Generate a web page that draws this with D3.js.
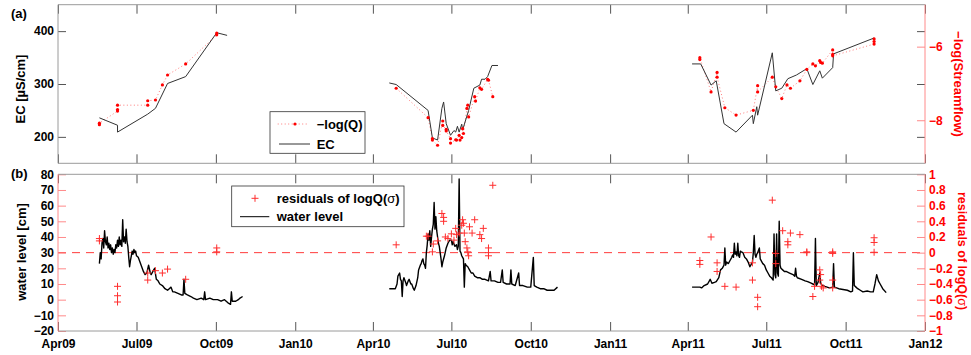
<!DOCTYPE html>
<html lang="en">
<head>
<meta charset="UTF-8">
<title>EC, streamflow and water level</title>
<script src="https://cdnjs.cloudflare.com/ajax/libs/d3/7.8.5/d3.min.js"></script>
<style>
    body { margin: 0; background: #fff; }
    svg { display: block; font-family: "Liberation Sans", Arial, sans-serif; font-weight: bold; }
</style>
</head>
<body>
<script>

    // ---------------- data ---------------- //
    var xTicks = ["2009-04-01", "2009-07-01", "2009-10-01", "2010-01-01", "2010-04-01", "2010-07-01",
                  "2010-10-01", "2011-01-01", "2011-04-01", "2011-07-01", "2011-10-01", "2012-01-01"];
    var ecTicks = [200, 300, 400];
    var qTicks = [-6, -8];
    var levelTicks = [-20, -10, 0, 10, 20, 30, 40, 50, 60, 70, 80];
    var resTicks = [-1, -0.8, -0.6, -0.4, -0.2, 0, 0.2, 0.4, 0.6, 0.8, 1];

    // EC [uS/cm]
    var ec2009 = [["2009-05-19",236],["2009-06-09",222],["2009-06-09",209],["2009-07-14",243],["2009-07-23",254],
                  ["2009-08-06",301],["2009-08-27",314],["2009-10-02",397],["2009-10-14",392]];
    var ec2010 = [["2010-04-20",302],["2010-04-28",299],["2010-06-04",250],["2010-06-09",198],["2010-06-15",194],
                  ["2010-06-20",254],["2010-06-22",266],["2010-06-25",225],["2010-06-30",203],["2010-07-04",212],
                  ["2010-07-06",209],["2010-07-08",220],["2010-07-10",209],["2010-07-13",224],["2010-07-14",213],
                  ["2010-07-21",250],["2010-07-27",292],["2010-08-03",298],["2010-08-05",309],["2010-08-09",309],
                  ["2010-08-12",314],["2010-08-17",335],["2010-08-24",335]];
    var ec2011 = [["2011-04-06",338],["2011-04-16",338],["2011-04-28",298],["2011-05-04",306],["2011-05-13",225],
                  ["2011-05-27",209],["2011-06-15",241],["2011-06-16",225],["2011-06-20",257],["2011-06-21",241],
                  ["2011-07-08",359],["2011-07-12",287],["2011-07-19",292],["2011-07-26",310],["2011-08-05",317],
                  ["2011-08-17",329],["2011-08-24",299],["2011-09-01",325],["2011-09-04",311],["2011-09-16",331],
                  ["2011-09-17",357],["2011-11-03",387]];

    // -log(Q)
    var q2009 = [["2009-05-19",-8.12],["2009-05-19",-8.08],["2009-06-09",-7.75],["2009-06-09",-7.71],["2009-06-09",-7.59],
                 ["2009-07-14",-7.59],["2009-07-14",-7.47],["2009-07-23",-7.45],["2009-07-31",-7.04],["2009-08-06",-6.77],
                 ["2009-08-27",-6.47],["2009-10-02",-5.68],["2009-10-02",-5.63]];
    var q2010 = [["2010-04-28",-7.13],["2010-06-04",-7.93],["2010-06-09",-8.50],["2010-06-09",-8.54],["2010-06-15",-8.68],
                 ["2010-06-21",-8.02],["2010-06-21",-8.14],["2010-06-25",-8.25],["2010-06-25",-8.29],["2010-06-30",-8.50],
                 ["2010-06-30",-8.62],["2010-07-06",-8.53],["2010-07-07",-8.54],["2010-07-10",-8.41],["2010-07-11",-8.54],
                 ["2010-07-13",-8.47],["2010-07-14",-8.23],["2010-07-15",-8.36],["2010-07-19",-7.68],["2010-07-20",-7.59],
                 ["2010-07-21",-7.91],["2010-07-28",-7.36],["2010-07-29",-7.48],["2010-08-03",-7.12],["2010-08-05",-7.16],
                 ["2010-08-12",-6.89],["2010-08-13",-6.91],["2010-08-18",-7.36]];
    var q2011 = [["2011-04-15",-6.35],["2011-04-15",-6.30],["2011-04-28",-7.23],["2011-05-05",-6.70],["2011-05-05",-6.83],
                 ["2011-05-14",-7.66],["2011-05-27",-7.86],["2011-06-16",-7.73],["2011-06-21",-7.06],["2011-06-21",-7.23],
                 ["2011-07-08",-6.83],["2011-07-12",-7.09],["2011-07-19",-7.41],["2011-07-25",-7.04],["2011-07-29",-7.13],
                 ["2011-08-09",-6.93],["2011-08-17",-6.62],["2011-08-24",-6.47],["2011-08-27",-6.52],["2011-09-01",-6.38],
                 ["2011-09-02",-6.43],["2011-09-04",-6.45],["2011-09-16",-6.09],["2011-09-16",-6.21],["2011-09-16",-6.25],
                 ["2011-11-03",-5.93],["2011-11-03",-5.86],["2011-11-03",-5.79]];

    // water level [cm]
    var level2009 = [["2009-05-19",23],["2009-05-20",30],["2009-05-21",26],["2009-05-22",36],["2009-05-23",39],["2009-05-24",33],
                     ["2009-05-25",44],["2009-05-26",37],["2009-05-27",35],["2009-05-28",40],["2009-05-29",33],["2009-05-30",36],
                     ["2009-05-31",32],["2009-06-01",35],["2009-06-02",30],["2009-06-03",33],["2009-06-04",29],["2009-06-05",32],
                     ["2009-06-06",30],["2009-06-07",35],["2009-06-08",33],["2009-06-09",38],["2009-06-10",34],["2009-06-11",40],
                     ["2009-06-12",35],["2009-06-13",38],["2009-06-14",34],["2009-06-15",51],["2009-06-16",37],["2009-06-17",40],
                     ["2009-06-18",36],["2009-06-19",45],["2009-06-20",37],["2009-06-21",34],["2009-06-22",27],["2009-06-23",21],
                     ["2009-06-24",25],["2009-06-25",28],["2009-06-26",31],["2009-06-27",29],["2009-06-28",32],["2009-06-29",30],
                     ["2009-06-30",31],["2009-07-01",28],["2009-07-03",27],["2009-07-05",24],["2009-07-07",21],["2009-07-09",18],
                     ["2009-07-11",16],["2009-07-13",17],["2009-07-15",22],["2009-07-17",17],["2009-07-18",16],["2009-07-20",18],
                     ["2009-07-22",20],["2009-07-24",13],["2009-07-26",12],["2009-07-28",10],["2009-07-31",9],["2009-08-03",7],
                     ["2009-08-06",6],["2009-08-08",7],["2009-08-10",8],["2009-08-12",5],["2009-08-14",5],["2009-08-18",4],
                     ["2009-08-22",3],["2009-08-24",3],["2009-08-25",13],["2009-08-26",4],["2009-08-29",3],["2009-09-02",2],
                     ["2009-09-05",1],["2009-09-09",0],["2009-09-14",1],["2009-09-17",0],["2009-09-18",5],["2009-09-19",0],
                     ["2009-09-24",1],["2009-09-28",0],["2009-10-03",0],["2009-10-07",-1],["2009-10-11",0],["2009-10-15",-2],
                     ["2009-10-18",-3],["2009-10-19",5],["2009-10-20",-1],["2009-10-24",-1],["2009-10-27",0],["2009-10-29",1],
                     ["2009-11-01",2]];
    var level2010 = [["2010-04-20",7],["2010-04-27",7],["2010-04-29",10],["2010-04-30",15],["2010-05-02",17],["2010-05-03",13],
                     ["2010-05-04",12],["2010-05-05",2],["2010-05-06",12],["2010-05-07",14],["2010-05-09",11],["2010-05-10",9],
                     ["2010-05-12",12],["2010-05-13",13],["2010-05-15",10],["2010-05-16",10],["2010-05-18",7],["2010-05-19",6],
                     ["2010-05-21",9],["2010-05-23",14],["2010-05-24",19],["2010-05-26",22],["2010-05-27",23],["2010-05-28",25],
                     ["2010-05-29",26],["2010-05-30",23],["2010-05-31",22],["2010-06-01",20],["2010-06-02",30],["2010-06-03",35],
                     ["2010-06-04",42],["2010-06-05",38],["2010-06-06",44],["2010-06-07",34],["2010-06-08",40],["2010-06-09",45],
                     ["2010-06-10",48],["2010-06-11",62],["2010-06-12",45],["2010-06-13",53],["2010-06-14",44],["2010-06-15",40],
                     ["2010-06-16",36],["2010-06-17",34],["2010-06-18",30],["2010-06-19",26],["2010-06-20",21],["2010-06-21",24],
                     ["2010-06-23",28],["2010-06-25",33],["2010-06-27",36],["2010-06-29",38],["2010-07-01",38],["2010-07-02",35],
                     ["2010-07-03",37],["2010-07-05",34],["2010-07-07",35],["2010-07-08",32],["2010-07-09",34],["2010-07-10",77],
                     ["2010-07-11",31],["2010-07-12",30],["2010-07-13",28],["2010-07-14",27],["2010-07-15",26],["2010-07-16",8],
                     ["2010-07-17",23],["2010-07-18",22],["2010-07-20",21],["2010-07-22",19],["2010-07-24",17],["2010-07-26",17],
                     ["2010-07-28",15],["2010-07-31",14],["2010-08-03",14],["2010-08-06",13],["2010-08-09",13],["2010-08-13",12],
                     ["2010-08-15",18],["2010-08-16",12],["2010-08-20",12],["2010-08-24",11],["2010-08-27",11],["2010-08-29",19],
                     ["2010-08-30",11],["2010-09-03",10],["2010-09-07",10],["2010-09-08",19],["2010-09-09",10],["2010-09-13",9],
                     ["2010-09-17",17],["2010-09-18",9],["2010-09-22",9],["2010-09-27",8],["2010-10-01",8],["2010-10-04",27],
                     ["2010-10-05",9],["2010-10-08",8],["2010-10-12",7],["2010-10-16",7],["2010-10-20",6],["2010-10-24",6],
                     ["2010-10-28",6],["2010-11-01",8]];
    var level2011 = [["2011-04-06",8],["2011-04-15",8],["2011-04-17",7.5],["2011-04-20",9],["2011-04-24",10],["2011-04-27",13],
                     ["2011-04-29",10.5],["2011-05-02",11],["2011-05-04",11.5],["2011-05-07",14],["2011-05-09",19],["2011-05-11",20],
                     ["2011-05-13",22],["2011-05-14",33],["2011-05-15",22],["2011-05-16",24],["2011-05-18",23],["2011-05-20",25],
                     ["2011-05-22",27],["2011-05-23",28.5],["2011-05-24",27],["2011-05-25",36],["2011-05-26",29],["2011-05-27",30.5],
                     ["2011-05-28",28],["2011-05-29",36],["2011-05-30",28],["2011-05-31",27],["2011-06-01",31],["2011-06-02",30.5],
                     ["2011-06-04",30],["2011-06-06",27],["2011-06-08",26],["2011-06-10",24],["2011-06-12",21],["2011-06-14",23],
                     ["2011-06-15",24],["2011-06-16",30],["2011-06-17",41],["2011-06-18",29],["2011-06-19",27],["2011-06-20",29],
                     ["2011-06-21",30],["2011-06-23",33],["2011-06-24",26],["2011-06-26",24],["2011-06-27",23],["2011-06-29",22],
                     ["2011-07-01",19],["2011-07-03",17],["2011-07-05",15],["2011-07-07",14],["2011-07-09",12.5],["2011-07-10",42],
                     ["2011-07-11",16],["2011-07-12",14],["2011-07-13",42],["2011-07-14",17],["2011-07-15",15],["2011-07-16",50],
                     ["2011-07-17",22],["2011-07-18",20],["2011-07-20",19],["2011-07-22",18],["2011-07-24",18],["2011-07-28",17],
                     ["2011-08-01",16],["2011-08-03",15],["2011-08-04",20],["2011-08-05",15],["2011-08-06",14],["2011-08-11",13],
                     ["2011-08-15",12],["2011-08-18",11.5],["2011-08-22",10.5],["2011-08-24",10],["2011-08-26",9.5],["2011-08-27",39],
                     ["2011-08-28",9],["2011-08-30",11],["2011-09-01",17],["2011-09-02",11],["2011-09-03",9.5],["2011-09-07",8.5],
                     ["2011-09-12",7.5],["2011-09-16",8],["2011-09-17",23],["2011-09-18",8],["2011-09-23",7],["2011-09-28",6.5],
                     ["2011-10-03",6],["2011-10-07",5],["2011-10-09",5.5],["2011-10-10",30],["2011-10-11",9],["2011-10-13",8],
                     ["2011-10-15",7],["2011-10-18",6],["2011-10-21",5],["2011-10-26",5.5],["2011-10-30",5],["2011-11-02",5],
                     ["2011-11-04",10],["2011-11-06",16],["2011-11-08",12],["2011-11-10",10],["2011-11-13",7],["2011-11-17",4.5]];

    // residuals of logQ(sigma)
    var residuals = [["2009-05-19",0.18],["2009-05-19",0.15],["2009-06-09",-0.43],["2009-06-09",-0.55],["2009-06-09",-0.63],
                     ["2009-07-14",-0.35],["2009-07-14",-0.26],["2009-07-23",-0.23],["2009-07-31",-0.26],["2009-08-06",-0.21],
                     ["2009-08-27",-0.34],["2009-10-02",0.06],["2009-10-02",0.01],
                     ["2010-04-28",0.10],["2010-06-02",0.21],["2010-06-04",0.21],["2010-06-09",0.01],["2010-06-10",0.11],
                     ["2010-06-15",0.15],["2010-06-20",0.50],["2010-06-22",0.45],["2010-06-22",0.40],["2010-06-24",0.20],
                     ["2010-06-27",0.18],["2010-07-01",0.24],["2010-07-04",0.16],["2010-07-06",0.31],["2010-07-07",0.23],
                     ["2010-07-10",0.25],["2010-07-13",0.35],["2010-07-14",0.42],["2010-07-15",0.375],["2010-07-16",0.25],
                     ["2010-07-17",0.14],["2010-07-19",0.06],["2010-07-20",0.01],["2010-07-21",-0.04],["2010-07-22",0.33],
                     ["2010-07-25",0.25],["2010-07-28",0.42],["2010-08-03",0.23],["2010-08-05",0.18],["2010-08-07",0.31],
                     ["2010-08-13",0.06],["2010-08-13",0.0],["2010-08-13",-0.04],["2010-08-18",0.86],
                     ["2011-04-15",-0.10],["2011-04-15",-0.15],["2011-04-28",0.20],["2011-05-05",-0.13],["2011-05-05",-0.24],
                     ["2011-05-14",-0.43],["2011-05-27",-0.44],["2011-06-15",-0.35],["2011-06-15",-0.13],["2011-06-21",-0.57],
                     ["2011-06-21",-0.69],["2011-07-08",0.67],["2011-07-12",-0.01],["2011-07-12",-0.14],["2011-07-20",0.28],
                     ["2011-07-26",0.14],["2011-07-26",0.10],["2011-07-29",0.25],["2011-08-09",0.23],["2011-08-17",0.01],
                     ["2011-08-17",0.0],["2011-08-24",-0.56],["2011-08-26",-0.43],["2011-09-01",-0.22],["2011-09-01",-0.35],
                     ["2011-09-02",-0.28],["2011-09-03",-0.43],["2011-09-05",-0.45],["2011-09-16",0.01],["2011-09-16",-0.01],
                     ["2011-09-16",-0.35],["2011-09-16",-0.45],["2011-11-03",0.19],["2011-11-03",0.13],["2011-11-03",0.005]];

    // ---------------- layout ---------------- //
    var width = 971, height = 355;
    var left = 58, right = 925;
    var panelA = {top: 4.7, bottom: 163.3};
    var panelB = {top: 174.3, bottom: 331};

    var boxColor = "#9a9a9a";
    var tickColor = "#555";
    var pink = "#ff8a8a";
    var red = "#ff0000";

    var parse = d3.utcParse("%Y-%m-%d");

    var svg = d3.select("body").append("svg")
        .attr("width", width)
        .attr("height", height);

    var xScale = d3.scaleUtc()
        .domain([parse("2009-04-01"), parse("2012-01-01")])
        .range([left, right]);
    var ecScale = d3.scaleLinear().domain([150, 450]).range([panelA.bottom, panelA.top]);
    var qScale = d3.scaleLinear().domain([-9.17, -4.86]).range([panelA.bottom, panelA.top]);
    var levelScale = d3.scaleLinear().domain([-20, 80]).range([panelB.bottom, panelB.top]);
    var resScale = d3.scaleLinear().domain([-1, 1]).range([panelB.bottom, panelB.top]);

    var tickDates = xTicks.map(parse);

    function styleAxis(g, color, size) {
        g.select(".domain").remove();
        g.selectAll(".tick line").attr("stroke", color);
        g.selectAll(".tick text").attr("fill", "#000").attr("font-size", size || 12);
    }

    // ------------- panel (a) ------------- //
    var lineEC = d3.line()
        .x(function (d) { return xScale(parse(d[0])); })
        .y(function (d) { return ecScale(d[1]); });
    var lineQ = d3.line()
        .x(function (d) { return xScale(parse(d[0])); })
        .y(function (d) { return qScale(d[1]); });

    var a = svg.append("g");

    [q2009, q2010, q2011].forEach(function (s) {
        a.append("path")
            .datum(s)
            .attr("fill", "none")
            .attr("stroke", "#ff7a7a")
            .attr("stroke-width", 1)
            .attr("stroke-dasharray", "1,2.5")
            .attr("d", lineQ);
    });
    [ec2009, ec2010, ec2011].forEach(function (s) {
        a.append("path")
            .datum(s)
            .attr("fill", "none")
            .attr("stroke", "#333")
            .attr("stroke-width", 1)
            .attr("d", lineEC);
    });
    a.selectAll("circle.q")
        .data(q2009.concat(q2010, q2011))
        .enter().append("circle")
        .attr("cx", function (d) { return xScale(parse(d[0])); })
        .attr("cy", function (d) { return qScale(d[1]); })
        .attr("r", 1.6)
        .attr("fill", red);

    // axes
    a.append("g").attr("transform", "translate(0," + panelA.bottom + ")")
        .call(d3.axisBottom(xScale).tickValues(tickDates).tickSize(-9).tickFormat(""))
        .call(styleAxis, tickColor);
    a.append("g").attr("transform", "translate(0," + panelA.top + ")")
        .call(d3.axisTop(xScale).tickValues(tickDates).tickSize(-9).tickFormat(""))
        .call(styleAxis, tickColor);
    a.append("g").attr("transform", "translate(" + left + ",0)")
        .call(d3.axisLeft(ecScale).tickValues(ecTicks).tickSize(-8).tickPadding(4))
        .call(styleAxis, tickColor, 12);
    a.append("g").attr("transform", "translate(" + right + ",0)")
        .call(d3.axisRight(ecScale).tickValues(ecTicks).tickSize(-8).tickFormat(""))
        .call(styleAxis, tickColor);
    var qAxis = a.append("g").attr("transform", "translate(" + right + ",0)")
        .call(d3.axisRight(qScale).tickValues(qTicks).tickSize(-8).tickPadding(4)
            .tickFormat(d3.format("~g")))
        .call(styleAxis, pink, 12);
    qAxis.selectAll(".tick text").attr("fill", red);

    // frame
    a.append("line").attr("x1", left).attr("x2", right).attr("y1", panelA.top).attr("y2", panelA.top).attr("stroke", boxColor);
    a.append("line").attr("x1", left).attr("x2", right).attr("y1", panelA.bottom).attr("y2", panelA.bottom).attr("stroke", boxColor);
    a.append("line").attr("x1", left).attr("x2", left).attr("y1", panelA.top).attr("y2", panelA.bottom).attr("stroke", boxColor);
    a.append("line").attr("x1", right).attr("x2", right).attr("y1", panelA.top).attr("y2", panelA.bottom).attr("stroke", pink);

    a.append("text").attr("x", 11).attr("y", 17.5).attr("font-size", 13).text("(a)");
    a.append("text")
        .attr("transform", "translate(25,89) rotate(-90)")
        .attr("text-anchor", "middle").attr("font-size", 13)
        .text("EC [\u00b5S/cm]");
    a.append("text")
        .attr("transform", "translate(954,84) rotate(90)")
        .attr("text-anchor", "middle").attr("font-size", 13).attr("fill", red)
        .text("\u2212log(Streamflow)");

    // legend (a)
    var legA = a.append("g").attr("transform", "translate(270,111.7)");
    legA.append("rect").attr("width", 95).attr("height", 41.6)
        .attr("fill", "#fff").attr("stroke", "#333").attr("stroke-width", 0.8);
    legA.append("line").attr("x1", 7.7).attr("x2", 38).attr("y1", 12.3).attr("y2", 12.3)
        .attr("stroke", "#ff7a7a").attr("stroke-dasharray", "1,2.5");
    legA.append("circle").attr("cx", 25).attr("cy", 12.3).attr("r", 1.6).attr("fill", red);
    legA.append("text").attr("x", 46.7).attr("y", 17).attr("font-size", 13).text("\u2212log(Q)");
    legA.append("line").attr("x1", 9).attr("x2", 40).attr("y1", 32.3).attr("y2", 32.3).attr("stroke", "#333");
    legA.append("text").attr("x", 46.7).attr("y", 37).attr("font-size", 13).text("EC");

    // ------------- panel (b) ------------- //
    var lineLevel = d3.line()
        .x(function (d) { return xScale(parse(d[0])); })
        .y(function (d) { return levelScale(d[1]); });

    var b = svg.append("g");

    b.append("line")
        .attr("x1", left).attr("x2", right)
        .attr("y1", resScale(0)).attr("y2", resScale(0))
        .attr("stroke", "#ff3b3b").attr("stroke-width", 1)
        .attr("stroke-dasharray", "8,6");

    [level2009, level2010, level2011].forEach(function (s) {
        b.append("path")
            .datum(s)
            .attr("fill", "none")
            .attr("stroke", "#000")
            .attr("stroke-width", 1.4)
            .attr("stroke-linejoin", "round")
            .attr("d", lineLevel);
    });

    b.selectAll("path.res")
        .data(residuals)
        .enter().append("path")
        .attr("class", "res")
        .attr("transform", function (d) {
            return "translate(" + xScale(parse(d[0])) + "," + resScale(d[1]) + ")";
        })
        .attr("d", "M-3.5,0H3.5M0,-3.5V3.5")
        .attr("stroke", "#ff2e2e")
        .attr("stroke-width", 1)
        .attr("fill", "none");

    b.append("g").attr("transform", "translate(0," + panelB.bottom + ")")
        .call(d3.axisBottom(xScale).tickValues(tickDates).tickSize(-9).tickPadding(8)
            .tickFormat(d3.utcFormat("%b%y")))
        .call(styleAxis, tickColor, 12);
    b.append("g").attr("transform", "translate(0," + panelB.top + ")")
        .call(d3.axisTop(xScale).tickValues(tickDates).tickSize(-9).tickFormat(""))
        .call(styleAxis, tickColor);
    b.append("g").attr("transform", "translate(" + left + ",0)")
        .call(d3.axisLeft(levelScale).tickValues(levelTicks).tickSize(-8).tickPadding(4))
        .call(styleAxis, pink, 12);
    var resAxis = b.append("g").attr("transform", "translate(" + right + ",0)")
        .call(d3.axisRight(resScale).tickValues(resTicks).tickSize(-8).tickPadding(4)
            .tickFormat(d3.format("~g")))
        .call(styleAxis, pink, 12);
    resAxis.selectAll(".tick text").attr("fill", red);

    b.append("line").attr("x1", left).attr("x2", right).attr("y1", panelB.top).attr("y2", panelB.top).attr("stroke", boxColor);
    b.append("line").attr("x1", left).attr("x2", right).attr("y1", panelB.bottom).attr("y2", panelB.bottom).attr("stroke", boxColor);
    b.append("line").attr("x1", left).attr("x2", left).attr("y1", panelB.top).attr("y2", panelB.bottom).attr("stroke", pink);
    b.append("line").attr("x1", right).attr("x2", right).attr("y1", panelB.top).attr("y2", panelB.bottom).attr("stroke", pink);

    b.append("text").attr("x", 11).attr("y", 177.5).attr("font-size", 13).text("(b)");
    b.append("text")
        .attr("transform", "translate(26,252) rotate(-90)")
        .attr("text-anchor", "middle").attr("font-size", 13)
        .text("water level [cm]");
    var resLabel = b.append("text")
        .attr("transform", "translate(957.5,251) rotate(90)")
        .attr("text-anchor", "middle").attr("font-size", 12.5).attr("fill", red);
    resLabel.append("tspan").text("residuals of logQ(");
    resLabel.append("tspan").attr("font-weight", "normal").text("\u03c3");
    resLabel.append("tspan").text(")");

    // legend (b)
    var legB = b.append("g").attr("transform", "translate(231.7,186)");
    legB.append("rect").attr("width", 172.3).attr("height", 40.7)
        .attr("fill", "#fff").attr("stroke", "#333").attr("stroke-width", 0.8);
    legB.append("path").attr("transform", "translate(23.3,12.3)")
        .attr("d", "M-3.5,0H3.5M0,-3.5V3.5").attr("stroke", "#ff2e2e").attr("fill", "none");
    var legText = legB.append("text").attr("x", 45).attr("y", 17).attr("font-size", 13);
    legText.append("tspan").text("residuals of logQ(");
    legText.append("tspan").attr("font-weight", "normal").text("\u03c3");
    legText.append("tspan").text(")");
    legB.append("line").attr("x1", 8.3).attr("x2", 37.6).attr("y1", 30.7).attr("y2", 30.7).attr("stroke", "#000");
    legB.append("text").attr("x", 45).attr("y", 35.4).attr("font-size", 13).text("water level");

</script>
</body>
</html>
